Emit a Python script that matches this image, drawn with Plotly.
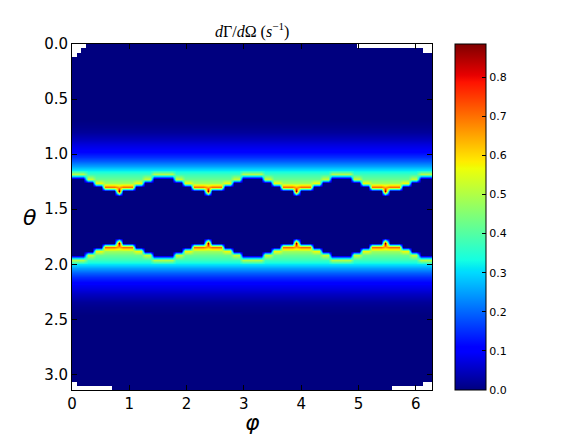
"""
Angular emission rate map dGamma/dOmega over theta and phi, drawn as a smoothed heatmap
"""
import numpy as np
import plotly.graph_objects as go

n_theta = 81
n_phi = 81

# value of the upper band per theta row, the lower band is its mirror
band_rows = list(range(18, 35))
band_values = [0.005, 0.01, 0.02, 0.035, 0.05, 0.07, 0.09, 0.12, 0.15,
               0.19, 0.25, 0.31, 0.37, 0.42, 0.48, 0.64, 0.885]

# value of the last lit cell of a column, by its row
edge_rows = [30, 31, 32, 33, 34]
edge_values = [0.5, 0.52, 0.57, 0.7, 0.885]

# last lit row of the upper band, by column distance from the arch centre (period 20 columns)
edge_last_row = [34, 33, 33, 33, 32, 32, 31, 31, 30, 30, 30]

# blank cells (row, column) in the corners
nan_cells = [(0, 0), (0, 1), (0, 2), (1, 0), (1, 1), (2, 0),
             (1, 79), (1, 80), (79, 0), (79, 79), (79, 80)]
nan_cells += [(0, c) for c in range(64, 81)]
nan_cells += [(80, c) for c in range(0, 9)]
nan_cells += [(80, c) for c in range(72, 81)]

x_ticks = [0, 1, 2, 3, 4, 5, 6]
y_ticks = [0.0, 0.5, 1.0, 1.5, 2.0, 2.5, 3.0]
cbar_ticks = [0.0, 0.1, 0.2, 0.3, 0.4, 0.5, 0.6, 0.7, 0.8]


def jet_scale():
    red = [(0, 0), (0.35, 0), (0.66, 1), (0.89, 1), (1, 0.5)]
    green = [(0, 0), (0.125, 0), (0.375, 1), (0.64, 1), (0.91, 0), (1, 0)]
    blue = [(0, 0.5), (0.11, 1), (0.34, 1), (0.65, 0), (1, 0)]
    stops = sorted({s for ch in (red, green, blue) for s, _ in ch})
    scale = []
    for s in stops:
        r, g, b = [np.interp(s, [p for p, _ in ch], [v for _, v in ch]) for ch in (red, green, blue)]
        scale.append([s, 'rgb({},{},{})'.format(int(r * 255), int(g * 255), int(b * 255))])
    return scale


profile = np.zeros(n_theta)
profile[band_rows] = band_values
edge_profile = dict(zip(edge_rows, edge_values))

z = np.zeros((n_theta, n_phi))
for j in range(n_phi):
    d = abs(j % 20 - 10)
    last = edge_last_row[d]
    for i in range(last + 1):
        v = edge_profile[i] if i == last else profile[i]
        z[i, j] = v
        z[n_theta - 1 - i, j] = v
for i, j in nan_cells:
    z[i, j] = np.nan

phi = (np.arange(n_phi) + 0.5) * 2 * np.pi / n_phi
theta = (np.arange(n_theta) + 0.5) * np.pi / n_theta

fig = go.Figure()
fig.add_trace(go.Heatmap(
    x=phi, y=theta, z=z, zsmooth='best', colorscale=jet_scale(),
    zmin=0, zmax=np.nanmax(z),
    colorbar=dict(
        x=(455 - 72) / 360, xanchor='left', xpad=0, y=0.5, yanchor='middle', ypad=0,
        len=1, lenmode='fraction',
        thickness=31, thicknessmode='pixels', outlinewidth=1, outlinecolor='black',
        tickvals=cbar_ticks, ticktext=['{:.1f}'.format(t) for t in cbar_ticks],
        ticks='inside', ticklen=4, tickcolor='black',
        tickfont=dict(family='DejaVu Sans', size=11, color='black'))))

axis_style = dict(showline=True, linecolor='black', linewidth=1, mirror='ticks',
                  ticks='inside', ticklen=5, tickcolor='black', showgrid=False, zeroline=False,
                  tickfont=dict(family='DejaVu Sans', size=15, color='black'))

fig.update_xaxes(range=[0, 2 * np.pi], tickvals=x_ticks, ticktext=[str(t) for t in x_ticks], **axis_style)
fig.update_yaxes(range=[np.pi, 0], tickvals=y_ticks, ticktext=['{:.1f}'.format(t) for t in y_ticks], **axis_style)

# the page body adds 8px, so the plot box is set 8px up and left
fig.update_layout(
    width=581, height=434,
    margin=dict(l=64, r=157, t=36, b=52),
    paper_bgcolor='white', plot_bgcolor='white',
    annotations=[
        dict(text='<i>d</i>Γ/<i>d</i>Ω (<i>s</i><sup>−1</sup>)', x=0.5, y=1, xref='paper', yref='paper',
             xanchor='center', yanchor='bottom', yshift=1, showarrow=False,
             font=dict(family='Liberation Serif', size=16, color='black')),
        dict(text='<i>θ</i>', x=-0.117, y=0.5, xref='paper', yref='paper', showarrow=False,
             xanchor='center', yanchor='middle',
             font=dict(family='DejaVu Sans', size=22, color='black')),
        dict(text='<i>φ</i>', x=0.5, y=-0.0925, xref='paper', yref='paper',
             xanchor='center', yanchor='middle',
             showarrow=False, font=dict(family='DejaVu Sans', size=22, color='black')),
    ])

fig.write_html("out.html")
